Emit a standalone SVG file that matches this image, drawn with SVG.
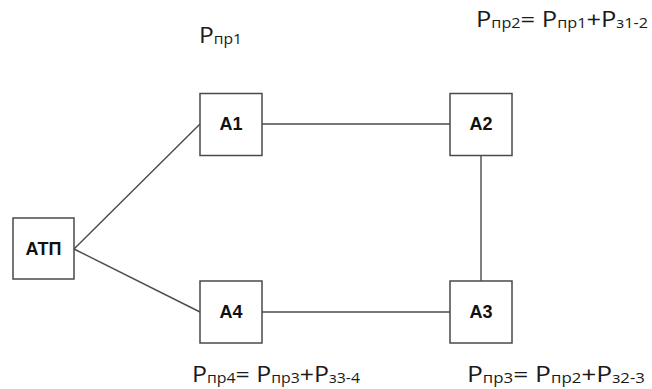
<svg xmlns="http://www.w3.org/2000/svg" width="652" height="389" viewBox="0 0 652 389">
  <style>
    .box { fill: #ffffff; stroke: #4a4a4a; stroke-width: 1.5; }
    .lbl { font-family: "Liberation Sans", Arial, sans-serif; font-weight: bold; font-size: 18px; fill: #111111; text-anchor: middle; }
    .wire { stroke: #4a4a4a; stroke-width: 1.4; fill: none; }
    .eq { font-family: "Open Sans", "Noto Sans", sans-serif; font-size: 22px; fill: #1a1a1a; }
    .sub { font-size: 14px; }
  </style>

  <rect width="652" height="389" fill="#ffffff"/>

  <!-- links between stations -->
  <g id="connectors">
    <line class="wire" x1="74" y1="249" x2="200" y2="124"/>
    <line class="wire" x1="74" y1="249" x2="200" y2="312"/>
    <line class="wire" x1="262" y1="124" x2="450" y2="124"/>
    <line class="wire" x1="262" y1="312" x2="450" y2="312"/>
    <line class="wire" x1="481" y1="155.5" x2="481" y2="281"/>
  </g>

  <g id="atp">
    <rect class="box" x="13" y="218" width="61" height="61"/>
    <text class="lbl" x="43.5" y="254.5">АТП</text>
  </g>
  <g id="a1">
    <rect class="box" x="200" y="93.5" width="62" height="62"/>
    <text class="lbl" x="231" y="129.5">А1</text>
  </g>
  <g id="a2">
    <rect class="box" x="450" y="93.5" width="62" height="62"/>
    <text class="lbl" x="481" y="129.5">А2</text>
  </g>
  <g id="a3">
    <rect class="box" x="450" y="281" width="62" height="62"/>
    <text class="lbl" x="481" y="317.5">А3</text>
  </g>
  <g id="a4">
    <rect class="box" x="200" y="281" width="62" height="62"/>
    <text class="lbl" x="231" y="317.5">А4</text>
  </g>

  <!-- power formulas -->
  <g id="formulas">
    <text class="eq" x="199" y="42.5" textLength="43" lengthAdjust="spacingAndGlyphs">P<tspan class="sub" dy="1">пр1</tspan></text>
    <text class="eq" x="476" y="27" textLength="172" lengthAdjust="spacingAndGlyphs">P<tspan class="sub" dy="1">пр2</tspan><tspan dy="-1">= P</tspan><tspan class="sub" dy="1">пр1</tspan><tspan dy="-1">+P</tspan><tspan class="sub" dy="1">з1-2</tspan></text>
    <text class="eq" x="192" y="382" textLength="168" lengthAdjust="spacingAndGlyphs">P<tspan class="sub" dy="1">пр4</tspan><tspan dy="-1">= P</tspan><tspan class="sub" dy="1">пр3</tspan><tspan dy="-1">+P</tspan><tspan class="sub" dy="1">з3-4</tspan></text>
    <text class="eq" x="467" y="382" textLength="178" lengthAdjust="spacingAndGlyphs">P<tspan class="sub" dy="1">пр3</tspan><tspan dy="-1">= P</tspan><tspan class="sub" dy="1">пр2</tspan><tspan dy="-1">+P</tspan><tspan class="sub" dy="1">з2-3</tspan></text>
  </g>
</svg>
